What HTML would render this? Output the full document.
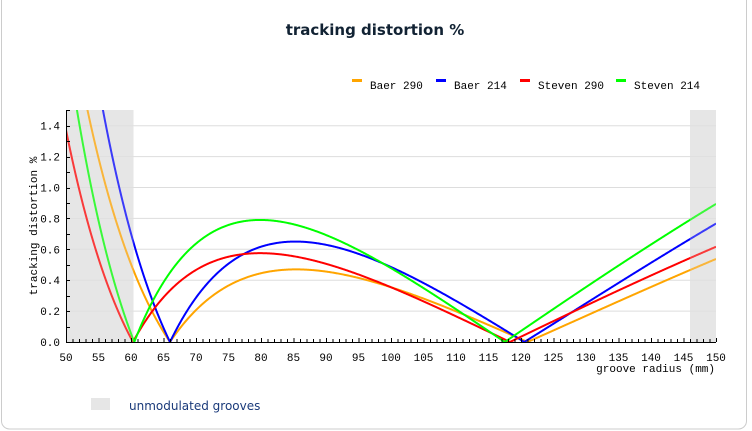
<!DOCTYPE html>
<html><head><meta charset="utf-8"><style>
html,body{margin:0;padding:0;background:#fff;width:752px;height:431px;overflow:hidden}
svg text{font-family:"Liberation Mono","DejaVu Sans Mono",monospace;font-size:11px;fill:#000}
</style></head><body>
<svg id="s" width="752" height="431" viewBox="0 0 752 431" xmlns="http://www.w3.org/2000/svg">
<rect x="1.5" y="-10" width="745" height="439" rx="8" fill="#fff" stroke="#ccc" stroke-width="1"/>
<text x="375" y="35" text-anchor="middle" style="font-family:'DejaVu Sans','Liberation Sans',sans-serif;font-weight:bold;font-size:15px;fill:#112233">tracking distortion %</text>
<g>
<rect x="352" y="79" width="10" height="3" fill="#ffa500"/><text x="370" y="89">Baer 290</text>
<rect x="436" y="79" width="10" height="3" fill="#0000ff"/><text x="454" y="89">Baer 214</text>
<rect x="520" y="79" width="10" height="3" fill="#ff0000"/><text x="538" y="89">Steven 290</text>
<rect x="616" y="79" width="10" height="3" fill="#00ff00"/><text x="634" y="89">Steven 214</text>
</g>
<rect x="66" y="110" width="67.5" height="232" fill="#e6e6e6"/>
<rect x="690" y="110" width="26" height="232" fill="#e6e6e6"/>
<g id="grid"></g>
<g id="lines"></g>
<rect x="66" y="110" width="67.5" height="232" fill="#e6e6e6" opacity="0.25"/>
<rect x="690" y="110" width="26" height="232" fill="#e6e6e6" opacity="0.25"/>
<g id="axes"></g>
<text x="37" y="226" text-anchor="middle" transform="rotate(-90 37 226)">tracking distortion %</text>
<text x="715" y="372" text-anchor="end">groove radius (mm)</text>
<rect x="91" y="398" width="19" height="12" fill="#e6e6e6"/>
<text x="129" y="410" style="font-family:'DejaVu Sans','Liberation Sans',sans-serif;font-size:12px;fill:#1a3a7a">unmodulated grooves</text>
</svg>
<script>
var X=function(r){return 66+(r-50)*6.5},Y=function(v){return 342-v*154.5};
var NS="http://www.w3.org/2000/svg";
function el(p,t,a,txt){var e=document.createElementNS(NS,t);for(var k in a)e.setAttribute(k,a[k]);if(txt)e.textContent=txt;document.getElementById(p).appendChild(e);return e}
for(var v=0.2;v<=1.41;v+=0.2)el("grid","line",{x1:66,x2:716,y1:Y(v),y2:Y(v),stroke:"#ddd","stroke-width":1});
el("axes","line",{x1:66,x2:716,y1:342.5,y2:342.5,stroke:"#000"});
el("axes","line",{x1:66.5,x2:66.5,y1:110,y2:342,stroke:"#000"});
for(var r=50;r<=150;r++){var h=(r%5==0)?4:3;el("axes","line",{x1:X(r)+.5,x2:X(r)+.5,y1:342,y2:342-h,stroke:"#000"});}
for(var r=50;r<=150;r+=5)el("axes","text",{x:X(r),y:361,"text-anchor":"middle"},""+r);
for(var i=0;i<=15;i++){var v=i/10;el("axes","line",{x1:66,x2:70,y1:Math.round(Y(v))+.5,y2:Math.round(Y(v))+.5,stroke:"#000"});}
for(var i=0;i<=7;i++){var v=i*0.2;el("axes","text",{x:60,y:Y(v)+4,"text-anchor":"end"},v.toFixed(1));}
var S=[["#ffa500",66,121,0.47],["#0000ff",66,120.5,0.65],["#ff0000",60.3,118.3,0.575],["#00ff00",60.5,117.5,0.79]];
var cp=el("lines","clipPath",{id:"c"});var rr=document.createElementNS(NS,"rect");rr.setAttribute("x",66);rr.setAttribute("y",110);rr.setAttribute("width",650);rr.setAttribute("height",233);cp.appendChild(rr);
S.forEach(function(s){var a=s[1],b=s[2],f=function(r){return Math.abs((r-a)*(b-r))/(r*r)};
var m=0;for(var r=a;r<=b;r+=0.05)m=Math.max(m,f(r));var k=s[3]/m,d="";
for(var r=50;r<=150.001;r+=0.1){var v=Math.min(k*f(r),1.6);d+=(d?"L":"M")+X(r).toFixed(2)+","+Y(v).toFixed(2);}
el("lines","path",{d:d,fill:"none",stroke:s[0],"stroke-width":2,"clip-path":"url(#c)"});});
</script>
</body></html>
